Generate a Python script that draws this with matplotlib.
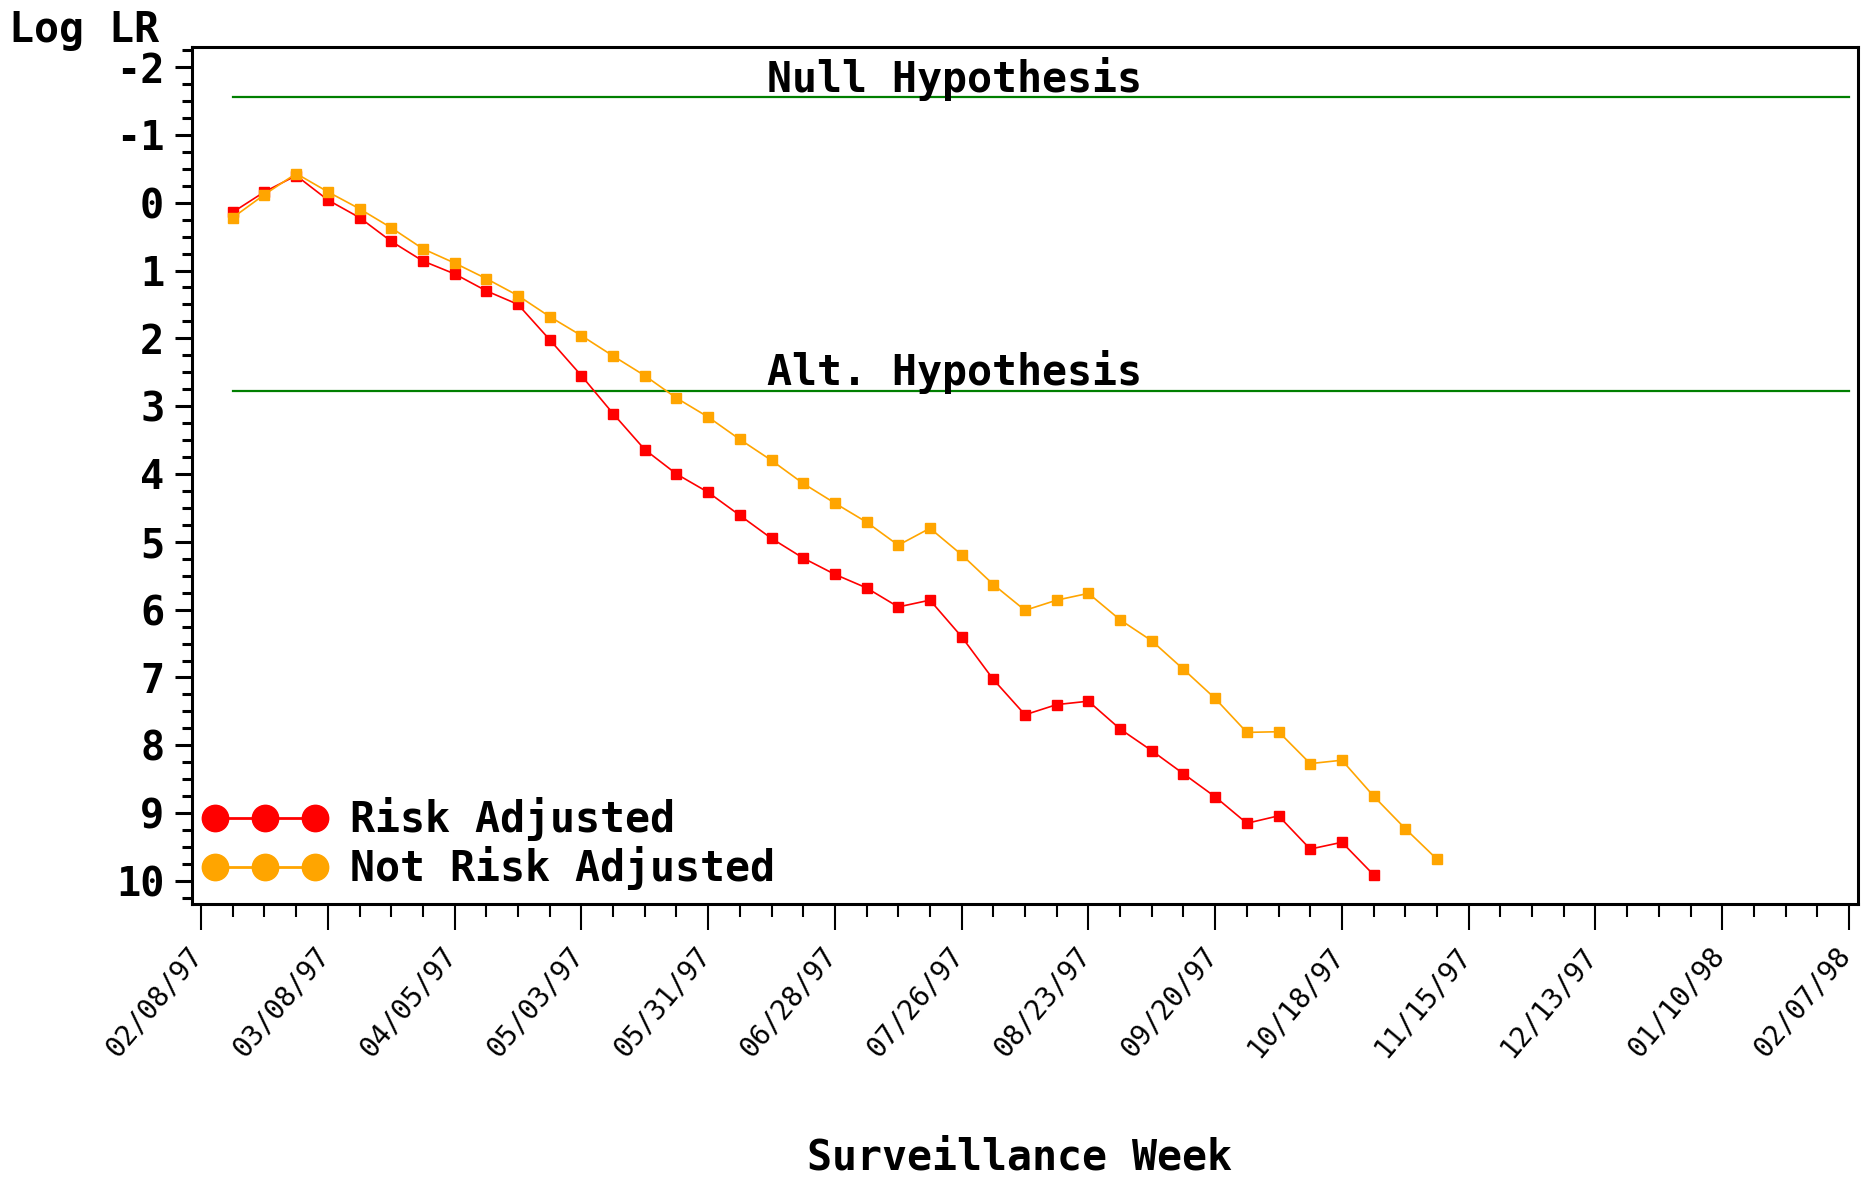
import datetime as dt
import matplotlib
matplotlib.use("Agg")
import matplotlib.pyplot as plt
import matplotlib.dates as mdates
import matplotlib.transforms as mtransforms
from matplotlib.lines import Line2D
from matplotlib.ticker import MultipleLocator

plt.rcParams['axes.unicode_minus'] = False

# weekly surveillance values (log likelihood ratio), first week 02/15/97
start = dt.date(1997, 2, 15)
risk_adj = [0.14, -0.16, -0.40, -0.04, 0.22, 0.57, 0.86, 1.05, 1.30, 1.50,
            2.02, 2.55, 3.11, 3.64, 4.00, 4.27, 4.61, 4.95, 5.24, 5.48,
            5.68, 5.96, 5.86, 6.40, 7.03, 7.55, 7.40, 7.35, 7.76,
            8.08, 8.42, 8.76, 9.15, 9.04, 9.53, 9.43, 9.91]
not_adj = [0.22, -0.12, -0.43, -0.16, 0.09, 0.37, 0.68, 0.89, 1.12, 1.37,
           1.68, 1.96, 2.26, 2.55, 2.88, 3.16, 3.49, 3.80, 4.14, 4.43,
           4.71, 5.05, 4.80, 5.19, 5.63, 6.01, 5.86, 5.76, 6.15,
           6.46, 6.88, 7.31, 7.81, 7.80, 8.27, 8.22, 8.75, 9.23, 9.68]
null_h = -1.56
alt_h = 2.77
y_ticks = [-2, -1, 0, 1, 2, 3, 4, 5, 6, 7, 8, 9, 10]

weeks_r = [start + dt.timedelta(weeks=i) for i in range(len(risk_adj))]
weeks_n = [start + dt.timedelta(weeks=i) for i in range(len(not_adj))]
tick_start = dt.date(1997, 2, 8)
tick_end = dt.date(1998, 2, 7)
major_ticks = [tick_start + dt.timedelta(days=28 * i) for i in range(14)]
minor_ticks = [tick_start + dt.timedelta(days=7 * i) for i in range(53)]

mono = 'DejaVu Sans Mono'
big = 30

fig = plt.figure(figsize=(18.61, 11.82), dpi=100)
ax = fig.add_axes([0.1032, 0.2352, 0.8952, 0.7253])

# hypothesis boundaries
ax.plot([start, tick_end], [null_h, null_h], color='#007f00', lw=1.6)
ax.plot([start, tick_end], [alt_h, alt_h], color='#007f00', lw=1.6)
txt_x = dt.date(1997, 6, 13)
ax.text(txt_x, null_h - 0.075, 'Null Hypothesis', family=mono, weight='bold',
        fontsize=big, ha='left', va='baseline')
ax.text(txt_x, alt_h - 0.075, 'Alt. Hypothesis', family=mono, weight='bold',
        fontsize=big, ha='left', va='baseline')

ax.plot(weeks_r, risk_adj, color='#ff0000', lw=1.2, marker='s', ms=6.5)
ax.plot(weeks_n, not_adj, color='#ffa500', lw=1.2, marker='s', ms=6.5)

ax.set_xlim(tick_start - dt.timedelta(days=2.7), tick_start + dt.timedelta(days=366.4))
ax.set_ylim(10.34, -2.30)

ax.set_xticks(major_ticks)
ax.set_xticks(minor_ticks, minor=True)
ax.xaxis.set_major_formatter(mdates.DateFormatter('%m/%d/%y'))
ax.set_yticks(y_ticks)
ax.yaxis.set_minor_locator(MultipleLocator(0.25))

for s in ax.spines.values():
    s.set_linewidth(2.2)
ax.tick_params(axis='y', which='major', length=12, width=2.2, pad=8)
ax.tick_params(axis='y', which='minor', length=7, width=2.2)
ax.tick_params(axis='x', which='major', length=19, width=1.5, pad=8)
ax.tick_params(axis='x', which='minor', length=9.5, width=1.5)

for lab in ax.get_yticklabels():
    lab.set_family(mono)
    lab.set_weight('bold')
    lab.set_fontsize(29)
shift = mtransforms.ScaledTranslation(-14 / 100, 0, fig.dpi_scale_trans)
for lab in ax.get_xticklabels():
    lab.set_family(mono)
    lab.set_fontsize(20)
    lab.set_rotation(50)
    lab.set_ha('right')
    lab.set_va('top')
    lab.set_rotation_mode('anchor')
    lab.set_transform(lab.get_transform() + shift)

handles = [Line2D([], [], color='#ff0000', lw=2, marker='o', ms=19),
           Line2D([], [], color='#ffa500', lw=2, marker='o', ms=19)]
ax.legend(handles, ['Risk Adjusted', 'Not Risk Adjusted'], loc='lower left',
          bbox_to_anchor=(0.006, 0.016), frameon=False, numpoints=3,
          handlelength=3.0, handletextpad=0.55, labelspacing=0.12,
          borderpad=0, borderaxespad=0,
          prop={'family': mono, 'weight': 'bold', 'size': big})

fig.text(0.005, 0.975, 'Log LR', family=mono, weight='bold', fontsize=big,
         ha='left', va='center')
fig.text(0.548, 0.021, 'Surveillance Week', family=mono, weight='bold',
         fontsize=big, ha='center', va='center')

fig.savefig('out.png', dpi=100)
